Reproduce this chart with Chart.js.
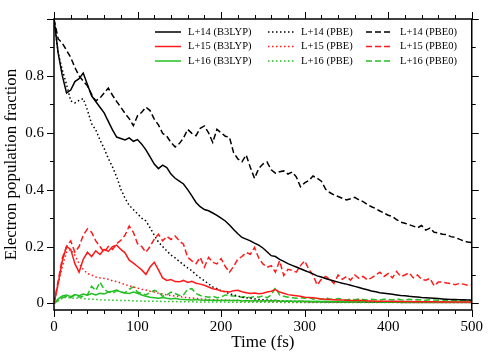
<!DOCTYPE html>
<html>
<head>
<meta charset="utf-8">
<script src="https://cdn.jsdelivr.net/npm/chart.js@4.4.0/dist/chart.umd.min.js"></script>
<style>
  html, body { margin: 0; padding: 0; background: #fff; }
  #wrap { width: 491px; height: 355px; position: relative; }
</style>
</head>
<body>
<div id="wrap"><canvas id="popChart"></canvas></div>
<script>
// Time grid (fs)
const timeFs = [
  0, 5, 10, 15, 20, 25, 30, 35, 40, 45,
  50, 55, 60, 65, 70, 75, 80, 85, 90, 95,
  100, 105, 110, 115, 120, 125, 130, 135, 140, 145,
  150, 155, 160, 165, 170, 175, 180, 185, 190, 195,
  200, 205, 210, 215, 220, 225, 230, 235, 240, 245,
  250, 255, 260, 265, 270, 275, 280, 285, 290, 295,
  300, 305, 310, 315, 320, 325, 330, 335, 340, 345,
  350, 355, 360, 365, 370, 375, 380, 385, 390, 395,
  400, 405, 410, 415, 420, 425, 430, 435, 440, 445,
  450, 455, 460, 465, 470, 475, 480, 485, 490, 495,
  500
];

// B3LYP
const l14B3LYP = [
  1.0, 0.88, 0.80, 0.74, 0.75, 0.78, 0.79, 0.81, 0.77, 0.73,
  0.71, 0.69, 0.67, 0.64, 0.61, 0.585, 0.58, 0.575, 0.582, 0.57,
  0.576, 0.56, 0.54, 0.515, 0.49, 0.474, 0.486, 0.478, 0.455, 0.44,
  0.43, 0.42, 0.40, 0.378, 0.355, 0.34, 0.33, 0.326, 0.318, 0.31,
  0.30, 0.29, 0.276, 0.26, 0.245, 0.232, 0.226, 0.22, 0.212, 0.205,
  0.195, 0.182, 0.168, 0.165, 0.155, 0.148, 0.14, 0.134, 0.128, 0.122,
  0.116, 0.11, 0.104, 0.097, 0.093, 0.088, 0.083, 0.079, 0.075, 0.071,
  0.068, 0.064, 0.06, 0.056, 0.052, 0.048, 0.044, 0.041, 0.038, 0.036,
  0.034, 0.032, 0.03, 0.028, 0.027, 0.025, 0.024, 0.023, 0.021, 0.02,
  0.019, 0.018, 0.017, 0.016, 0.015, 0.014, 0.014, 0.013, 0.013, 0.012,
  0.012
];
const l15B3LYP = [
  0, 0.07, 0.15, 0.2, 0.19, 0.14, 0.11, 0.155, 0.18, 0.165,
  0.185, 0.172, 0.19, 0.183, 0.2, 0.205, 0.19, 0.178, 0.152, 0.142,
  0.13, 0.118, 0.102, 0.128, 0.145, 0.118, 0.09, 0.081, 0.084, 0.077,
  0.076, 0.081, 0.074, 0.078, 0.071, 0.068, 0.064, 0.058, 0.052, 0.049,
  0.044, 0.042, 0.04, 0.045, 0.046, 0.041, 0.038, 0.035, 0.037, 0.034,
  0.036, 0.04, 0.043, 0.049, 0.04, 0.036, 0.031, 0.029, 0.027, 0.025,
  0.022, 0.021, 0.02, 0.018, 0.016, 0.015, 0.014, 0.013, 0.012, 0.012,
  0.011, 0.01, 0.01, 0.011, 0.01, 0.009, 0.009, 0.008, 0.008, 0.008,
  0.008, 0.007, 0.008, 0.007, 0.007, 0.007, 0.006, 0.007, 0.006, 0.006,
  0.006, 0.006, 0.005, 0.006, 0.005, 0.005, 0.005, 0.005, 0.005, 0.005,
  0.005
];
const l16B3LYP = [
  0, 0.016, 0.026, 0.03, 0.024, 0.031, 0.027, 0.033, 0.029, 0.035,
  0.03, 0.036, 0.033, 0.04, 0.043, 0.047, 0.04, 0.037, 0.035, 0.04,
  0.036, 0.03, 0.025, 0.022, 0.02, 0.018, 0.021, 0.018, 0.016, 0.018,
  0.015, 0.014, 0.013, 0.012, 0.014, 0.012, 0.011, 0.012, 0.01, 0.011,
  0.01, 0.011, 0.01, 0.01, 0.011, 0.009, 0.01, 0.009, 0.01, 0.009,
  0.009, 0.01, 0.009, 0.011, 0.009, 0.008, 0.009, 0.008, 0.008, 0.009,
  0.008, 0.008, 0.007, 0.008, 0.007, 0.008, 0.007, 0.007, 0.007, 0.006,
  0.007, 0.006, 0.007, 0.006, 0.006, 0.006, 0.007, 0.006, 0.006, 0.005,
  0.006, 0.005, 0.006, 0.005, 0.005, 0.006, 0.005, 0.005, 0.005, 0.005,
  0.005, 0.005, 0.004, 0.005, 0.004, 0.005, 0.004, 0.004, 0.004, 0.004,
  0.004
];

// PBE
const l14PBE = [
  1.0, 0.88, 0.82, 0.77, 0.712, 0.705, 0.714, 0.72, 0.68, 0.632,
  0.61, 0.575, 0.545, 0.51, 0.48, 0.445, 0.402, 0.37, 0.345, 0.33,
  0.315, 0.30, 0.29, 0.266, 0.24, 0.216, 0.2, 0.185, 0.17, 0.16,
  0.148, 0.136, 0.125, 0.115, 0.101, 0.09, 0.08, 0.069, 0.058, 0.052,
  0.045, 0.04, 0.034, 0.03, 0.026, 0.022, 0.02, 0.018, 0.016, 0.014,
  0.013, 0.012, 0.011, 0.01, 0.009, 0.009, 0.008, 0.008, 0.007, 0.007,
  0.007, 0.006, 0.006, 0.006, 0.006, 0.005, 0.005, 0.005, 0.005, 0.005,
  0.005, 0.005, 0.005, 0.004, 0.005, 0.004, 0.004, 0.004, 0.004, 0.004,
  0.004, 0.004, 0.004, 0.004, 0.003, 0.004, 0.003, 0.003, 0.003, 0.003,
  0.003, 0.003, 0.003, 0.003, 0.003, 0.003, 0.003, 0.003, 0.003, 0.003,
  0.003
];
const l15PBE = [
  0, 0.07, 0.13, 0.18, 0.19, 0.17, 0.14, 0.12, 0.105, 0.1,
  0.093, 0.09, 0.088, 0.085, 0.08, 0.077, 0.072, 0.066, 0.062, 0.058,
  0.054, 0.05, 0.047, 0.043, 0.04, 0.036, 0.033, 0.03, 0.028, 0.026,
  0.024, 0.022, 0.02, 0.019, 0.018, 0.016, 0.015, 0.014, 0.013, 0.012,
  0.012, 0.011, 0.011, 0.01, 0.01, 0.009, 0.009, 0.009, 0.008, 0.008,
  0.008, 0.008, 0.007, 0.007, 0.007, 0.007, 0.006, 0.006, 0.006, 0.006,
  0.006, 0.005, 0.005, 0.005, 0.005, 0.005, 0.005, 0.005, 0.004, 0.004,
  0.004, 0.004, 0.004, 0.004, 0.004, 0.004, 0.004, 0.004, 0.004, 0.004,
  0.004, 0.004, 0.004, 0.003, 0.003, 0.003, 0.003, 0.003, 0.003, 0.003,
  0.003, 0.003, 0.003, 0.003, 0.003, 0.003, 0.003, 0.003, 0.003, 0.003,
  0.003
];
const l16PBE = [
  0, 0.01, 0.018, 0.022, 0.02, 0.018, 0.02, 0.017, 0.016, 0.015,
  0.014, 0.013, 0.012, 0.012, 0.011, 0.011, 0.01, 0.01, 0.01, 0.009,
  0.009, 0.009, 0.008, 0.008, 0.008, 0.008, 0.007, 0.007, 0.007, 0.007,
  0.006, 0.006, 0.006, 0.006, 0.005, 0.005, 0.005, 0.005, 0.005, 0.005,
  0.005, 0.005, 0.004, 0.004, 0.004, 0.004, 0.004, 0.004, 0.004, 0.004,
  0.004, 0.004, 0.004, 0.004, 0.004, 0.003, 0.004, 0.003, 0.003, 0.003,
  0.003, 0.003, 0.003, 0.003, 0.003, 0.003, 0.003, 0.003, 0.003, 0.003,
  0.003, 0.003, 0.003, 0.003, 0.003, 0.003, 0.003, 0.003, 0.003, 0.003,
  0.003, 0.003, 0.003, 0.003, 0.003, 0.003, 0.003, 0.003, 0.003, 0.003,
  0.003, 0.003, 0.003, 0.003, 0.003, 0.003, 0.003, 0.003, 0.003, 0.003,
  0.003
];

// PBE0
const l14PBE0 = [
  1.0, 0.93, 0.915, 0.89, 0.865, 0.83, 0.8, 0.782, 0.765, 0.735,
  0.712, 0.722, 0.74, 0.757, 0.732, 0.71, 0.69, 0.668, 0.65, 0.625,
  0.66, 0.672, 0.69, 0.678, 0.648, 0.628, 0.598, 0.588, 0.566, 0.55,
  0.562, 0.582, 0.612, 0.598, 0.59, 0.616, 0.624, 0.6, 0.566, 0.612,
  0.6, 0.588, 0.584, 0.53, 0.508, 0.498, 0.522, 0.478, 0.44, 0.474,
  0.49, 0.497, 0.47, 0.458, 0.463, 0.466, 0.455, 0.462, 0.445, 0.41,
  0.424, 0.432, 0.448, 0.44, 0.43, 0.402, 0.39, 0.382, 0.376, 0.37,
  0.364, 0.368, 0.373, 0.364, 0.358, 0.348, 0.34, 0.334, 0.325, 0.318,
  0.31, 0.306, 0.295, 0.286, 0.282, 0.277, 0.272, 0.266, 0.274, 0.258,
  0.265, 0.25, 0.248, 0.243, 0.242, 0.235, 0.232, 0.226, 0.22, 0.216,
  0.214
];
const l15PBE0 = [
  0, 0.08, 0.16, 0.2, 0.22, 0.18, 0.2, 0.24, 0.262, 0.25,
  0.22, 0.2, 0.18, 0.2, 0.19, 0.21, 0.222, 0.24, 0.272, 0.25,
  0.21, 0.2, 0.18, 0.2, 0.226, 0.243, 0.22, 0.236, 0.225, 0.237,
  0.22, 0.208, 0.162, 0.15, 0.14, 0.162, 0.128, 0.162, 0.145, 0.139,
  0.158, 0.13, 0.11, 0.13, 0.156, 0.165, 0.179, 0.173, 0.197, 0.16,
  0.139, 0.127, 0.133, 0.11, 0.15, 0.098, 0.12, 0.116, 0.11, 0.133,
  0.15, 0.12, 0.1, 0.065, 0.085, 0.095, 0.085, 0.07, 0.1, 0.085,
  0.095, 0.082, 0.1, 0.088, 0.095, 0.083, 0.09, 0.1, 0.11, 0.095,
  0.105, 0.09, 0.112, 0.095, 0.1, 0.108, 0.09, 0.1, 0.085, 0.082,
  0.088, 0.062, 0.075, 0.075, 0.072, 0.07, 0.066, 0.07, 0.068, 0.064,
  0.064
];
const l16PBE0 = [
  0, 0.01, 0.02, 0.025, 0.02, 0.03, 0.022, 0.025, 0.03, 0.06,
  0.045, 0.075, 0.05, 0.04, 0.035, 0.045, 0.04, 0.038, 0.05, 0.058,
  0.04, 0.035, 0.03, 0.038, 0.046, 0.04, 0.025, 0.03, 0.04, 0.035,
  0.028, 0.03, 0.05, 0.052, 0.035, 0.028, 0.025, 0.022, 0.026, 0.02,
  0.022, 0.03, 0.028, 0.026, 0.025, 0.022, 0.024, 0.02, 0.025, 0.022,
  0.027, 0.02, 0.03, 0.055, 0.03, 0.025, 0.022, 0.02, 0.018, 0.02,
  0.018, 0.022, 0.015, 0.018, 0.015, 0.02, 0.016, 0.014, 0.017, 0.015,
  0.012, 0.015, 0.013, 0.016, 0.014, 0.012, 0.015, 0.013, 0.012, 0.015,
  0.014, 0.012, 0.016, 0.013, 0.012, 0.015, 0.012, 0.014, 0.012, 0.011,
  0.013, 0.012, 0.011, 0.012, 0.01, 0.011, 0.012, 0.01, 0.011, 0.01,
  0.01
];

const yTickValues = [0, 0.2, 0.4, 0.6, 0.8];

const serif = "'Liberation Serif', 'Times New Roman', serif";
const BLACK = '#000000';
const RED = '#ff1a1a';
const GREEN = '#22c022';
const DOTTED = [1.5, 2.5];
const DASHED = [6, 3];

function toXY(values) {
    return values.map((v, i) => ({ x: timeFs[i], y: v }));
}

function makeSet(label, values, color, dash) {
    return {
        label: label,
        data: toXY(values),
        borderColor: color,
        backgroundColor: color,
        borderWidth: 1.5,
        borderDash: dash,
        borderCapStyle: 'butt',
        pointRadius: 0,
        tension: 0,
        fill: false
    };
}

// Frame with inward/outward minor + major ticks on all four sides
const framePlugin = {
    id: 'frame',
    afterDraw(chart) {
        const { ctx, chartArea: a, scales: { x, y } } = chart;
        ctx.save();
        ctx.strokeStyle = '#000';
        ctx.lineWidth = 1.5;
        ctx.strokeRect(a.left, a.top, a.right - a.left, a.bottom - a.top);
        ctx.lineWidth = 1;
        ctx.beginPath();
        for (let t = 0; t <= 500; t += 20) {
            const px = Math.round(x.getPixelForValue(t)) + 0.5;
            const len = t % 100 === 0 ? 7 : 4;
            ctx.moveTo(px, a.bottom);
            ctx.lineTo(px, a.bottom + len);
            ctx.moveTo(px, a.top);
            ctx.lineTo(px, a.top - len);
        }
        for (let k = 0; k <= 10; k++) {
            const v = k / 10;
            const py = Math.round(y.getPixelForValue(v)) + 0.5;
            const len = k % 2 === 0 ? 7 : 4;
            ctx.moveTo(a.left, py);
            ctx.lineTo(a.left - len, py);
            ctx.moveTo(a.right, py);
            ctx.lineTo(a.right + len, py);
        }
        ctx.stroke();
        ctx.restore();
    }
};

// 3 x 3 legend (columns: B3LYP, PBE, PBE0)
const legendPlugin = {
    id: 'gridLegend',
    afterDraw(chart) {
        const ctx = chart.ctx;
        const lineX = [155, 268, 366];
        const textX = [188, 301, 400];
        const rowY = [32, 46.5, 61];
        ctx.save();
        ctx.font = '10.5px ' + serif;
        ctx.textBaseline = 'middle';
        ctx.fillStyle = '#000';
        chart.data.datasets.forEach((ds, i) => {
            const col = Math.floor(i / 3);
            const row = i % 3;
            const yy = rowY[row];
            ctx.strokeStyle = ds.borderColor;
            ctx.lineWidth = 1.5;
            ctx.setLineDash(ds.borderDash);
            ctx.beginPath();
            ctx.moveTo(lineX[col], yy);
            ctx.lineTo(lineX[col] + 26, yy);
            ctx.stroke();
            ctx.setLineDash([]);
            ctx.fillText(ds.label, textX[col], yy);
        });
        ctx.restore();
    }
};

const chart = new Chart(document.getElementById('popChart').getContext('2d'), {
    type: 'line',
    data: {
        datasets: [
            makeSet('L+14 (B3LYP)', l14B3LYP, BLACK, []),
            makeSet('L+15 (B3LYP)', l15B3LYP, RED, []),
            makeSet('L+16 (B3LYP)', l16B3LYP, GREEN, []),
            makeSet('L+14 (PBE)', l14PBE, BLACK, DOTTED),
            makeSet('L+15 (PBE)', l15PBE, RED, DOTTED),
            makeSet('L+16 (PBE)', l16PBE, GREEN, DOTTED),
            makeSet('L+14 (PBE0)', l14PBE0, BLACK, DASHED),
            makeSet('L+15 (PBE0)', l15PBE0, RED, DASHED),
            makeSet('L+16 (PBE0)', l16PBE0, GREEN, DASHED)
        ]
    },
    options: {
        responsive: true,
        maintainAspectRatio: false,
        animation: false,
        layout: { padding: { top: 14, right: 15, left: 0, bottom: 0 } },
        plugins: {
            legend: { display: false },
            tooltip: { enabled: false }
        },
        scales: {
            x: {
                type: 'linear',
                min: 0,
                max: 500,
                ticks: {
                    stepSize: 100,
                    maxRotation: 0,
                    padding: 8,
                    color: '#000',
                    font: { family: serif, size: 15 }
                },
                grid: { display: false, drawTicks: false },
                border: { display: false },
                title: {
                    display: true,
                    text: 'Time (fs)',
                    color: '#000',
                    font: { family: serif, size: 17 },
                    padding: { top: 0, bottom: 2 }
                },
                afterFit: (scale) => { scale.height = 45; }
            },
            y: {
                min: -0.023,
                max: 1.0,
                afterBuildTicks: (scale) => {
                    scale.ticks = yTickValues.map(v => ({ value: v }));
                },
                ticks: {
                    padding: 10,
                    color: '#000',
                    font: { family: serif, size: 15 },
                    callback: (v) => (v === 0 ? '0' : v.toFixed(1))
                },
                grid: { display: false, drawTicks: false },
                border: { display: false },
                title: {
                    display: true,
                    text: 'Electron population fraction',
                    color: '#000',
                    font: { family: serif, size: 17 },
                    padding: { top: 1, bottom: 0 }
                },
                afterFit: (scale) => { scale.width = 54; }
            }
        }
    },
    plugins: [framePlugin, legendPlugin]
});
</script>
</body>
</html>
